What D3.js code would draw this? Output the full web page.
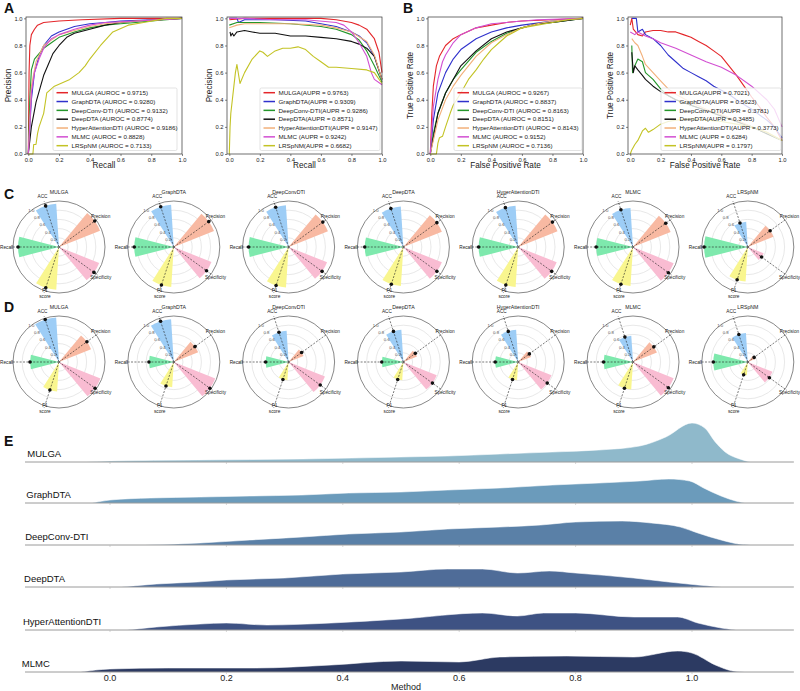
<!DOCTYPE html>
<html><head><meta charset="utf-8">
<script src="https://cdn.jsdelivr.net/npm/d3@7"></script>
<style>body{margin:0;background:#fff}svg{font-family:"Liberation Sans",Arial,sans-serif}</style>
</head><body><svg id="c" width="800" height="691"></svg>
<script>
// ---------------- DATA ----------------
const methods = ["MULGA","GraphDTA","DeepConv-DTI","DeepDTA","HyperAttentionDTI","MLMC","LRSpNM"];
const curveColors = ["#e4262a","#2f31cc","#24962a","#111111","#f2b07a","#d24fd2","#c3c325"];

const legendA1 = ["MULGA (AUROC = 0.9715)","GraphDTA (AUROC = 0.9280)","DeepConv-DTI (AUROC = 0.9132)","DeepDTA (AUROC = 0.8774)","HyperAttentionDTI (AUROC = 0.9186)","MLMC (AUROC = 0.8828)","LRSpNM (AUROC = 0.7133)"];
const legendA2 = ["MULGA(AUPR = 0.9763)","GraphDTA(AUPR = 0.9309)","DeepConv-DTI(AUPR = 0.9286)","DeepDTA(AUPR = 0.8571)","HyperAttentionDTI(AUPR = 0.9147)","MLMC (AUPR = 0.9242)","LRSpNM(AUPR = 0.6682)"];
const legendB1 = ["MULGA (AUROC = 0.9267)","GraphDTA (AUROC = 0.8837)","DeepConv-DTI (AUROC = 0.8163)","DeepDTA (AUROC = 0.8151)","HyperAttentionDTI (AUROC = 0.8143)","MLMC (AUROC = 0.9152)","LRSpNM (AUROC = 0.7136)"];
const legendB2 = ["MULGA(AUPR = 0.7021)","GraphDTA(AUPR = 0.5623)","DeepConv-DTI(AUPR = 0.3781)","DeepDTA(AUPR = 0.3485)","HyperAttentionDTI(AUPR = 0.3773)","MLMC (AUPR = 0.6284)","LRSpNM(AUPR = 0.1797)"];

const axisTicks = [0.0,0.2,0.4,0.6,0.8,1.0];

// Panel A left: curves (x, y)
const curvesA1 = [
 [[0,0],[0.005,0.6],[0.01,0.8],[0.02,0.88],[0.04,0.92],[0.06,0.95],[0.1,0.97],[0.2,0.98],[0.35,0.99],[0.6,1],[1,1]],
 [[0,0],[0.02,0.4],[0.04,0.6],[0.07,0.72],[0.1,0.8],[0.15,0.87],[0.2,0.9],[0.25,0.92],[0.3,0.94],[0.4,0.96],[0.5,0.97],[0.6,0.98],[0.8,0.99],[1,1]],
 [[0,0],[0.01,0.4],[0.02,0.62],[0.04,0.7],[0.07,0.74],[0.1,0.78],[0.15,0.82],[0.2,0.86],[0.3,0.9],[0.4,0.93],[0.5,0.95],[0.6,0.96],[0.7,0.97],[0.8,0.98],[1,1]],
 [[0,0],[0.02,0.2],[0.05,0.38],[0.08,0.5],[0.1,0.58],[0.13,0.66],[0.16,0.74],[0.2,0.8],[0.25,0.86],[0.3,0.89],[0.4,0.92],[0.5,0.95],[0.6,0.97],[0.7,0.98],[0.85,0.99],[1,1]],
 [[0,0],[0.02,0.5],[0.05,0.68],[0.1,0.8],[0.2,0.88],[0.3,0.91],[0.4,0.94],[0.5,0.96],[0.7,0.98],[1,1]],
 [[0,0],[0.02,0.45],[0.04,0.6],[0.07,0.7],[0.1,0.78],[0.15,0.85],[0.2,0.88],[0.3,0.92],[0.4,0.95],[0.5,0.97],[0.7,0.98],[1,1]],
 [[0,0],[0.03,0],[0.035,0.07],[0.05,0.07],[0.06,0.15],[0.07,0.2],[0.1,0.3],[0.12,0.45],[0.17,0.5],[0.27,0.55],[0.33,0.6],[0.37,0.65],[0.4,0.7],[0.47,0.8],[0.55,0.9],[0.65,0.95],[0.75,0.97],[0.9,1],[1,1]]
];
// Panel A right
const curvesA2 = [
 [[0,0.99],[0.1,1],[0.6,1],[0.7,0.99],[0.8,0.97],[0.85,0.95],[0.9,0.92],[0.95,0.85],[0.98,0.75],[1,0.6]],
 [[0,1],[0.05,1],[0.06,0.97],[0.1,0.99],[0.3,0.99],[0.5,0.98],[0.6,0.96],[0.7,0.94],[0.8,0.9],[0.85,0.87],[0.9,0.82],[0.95,0.72],[1,0.55]],
 [[0,0.95],[0.05,0.97],[0.2,0.97],[0.4,0.96],[0.6,0.94],[0.7,0.92],[0.8,0.88],[0.85,0.84],[0.9,0.76],[0.95,0.65],[1,0.53]],
 [[0.005,0.9],[0.01,0.87],[0.02,0.89],[0.03,0.87],[0.05,0.9],[0.1,0.91],[0.15,0.9],[0.2,0.89],[0.3,0.89],[0.4,0.87],[0.5,0.87],[0.6,0.86],[0.7,0.85],[0.8,0.83],[0.85,0.81],[0.9,0.78],[0.95,0.72],[1,0.55]],
 [[0,0.93],[0.05,0.95],[0.1,0.96],[0.2,0.96],[0.4,0.96],[0.6,0.95],[0.7,0.93],[0.8,0.9],[0.9,0.83],[0.95,0.73],[1,0.55]],
 [[0,1],[0.1,1],[0.3,0.99],[0.5,0.99],[0.7,0.97],[0.75,0.95],[0.8,0.9],[0.85,0.82],[0.9,0.72],[0.93,0.6],[0.95,0.55],[1,0.51]],
 [[0,0],[0.005,0.2],[0.01,0.3],[0.02,0.4],[0.04,0.6],[0.05,0.66],[0.07,0.52],[0.1,0.6],[0.15,0.7],[0.2,0.76],[0.22,0.75],[0.25,0.72],[0.3,0.76],[0.35,0.78],[0.4,0.78],[0.45,0.79],[0.5,0.77],[0.55,0.72],[0.6,0.68],[0.65,0.64],[0.7,0.64],[0.8,0.63],[0.9,0.62],[0.95,0.6],[1,0.52]]
];
// Panel B left
const curvesB1 = [
 [[0,0],[0.01,0.3],[0.02,0.5],[0.04,0.65],[0.06,0.72],[0.1,0.8],[0.15,0.85],[0.2,0.88],[0.3,0.93],[0.4,0.95],[0.5,0.97],[0.6,0.98],[0.8,0.99],[1,1]],
 [[0,0],[0.02,0.25],[0.05,0.45],[0.1,0.6],[0.15,0.7],[0.2,0.77],[0.3,0.85],[0.4,0.9],[0.5,0.93],[0.6,0.95],[0.8,0.98],[1,1]],
 [[0,0],[0.02,0.15],[0.05,0.3],[0.1,0.45],[0.15,0.55],[0.2,0.62],[0.3,0.75],[0.4,0.83],[0.5,0.89],[0.6,0.93],[0.7,0.96],[0.8,0.97],[1,1]],
 [[0,0],[0.02,0.12],[0.05,0.3],[0.1,0.45],[0.15,0.55],[0.2,0.65],[0.3,0.76],[0.4,0.85],[0.5,0.9],[0.6,0.93],[0.7,0.96],[0.8,0.97],[1,1]],
 [[0,0],[0.02,0.1],[0.05,0.25],[0.1,0.4],[0.15,0.5],[0.2,0.58],[0.3,0.72],[0.4,0.82],[0.5,0.88],[0.6,0.93],[0.7,0.96],[0.8,0.98],[1,1]],
 [[0,0],[0.02,0.35],[0.05,0.55],[0.08,0.68],[0.1,0.73],[0.15,0.82],[0.2,0.88],[0.3,0.93],[0.4,0.96],[0.5,0.97],[0.7,0.99],[1,1]],
 [[0,0],[0.04,0],[0.05,0.08],[0.06,0.12],[0.08,0.13],[0.1,0.2],[0.13,0.3],[0.15,0.36],[0.2,0.45],[0.25,0.55],[0.3,0.62],[0.35,0.7],[0.4,0.77],[0.45,0.82],[0.5,0.87],[0.55,0.9],[0.6,0.93],[0.7,0.95],[0.8,0.97],[0.9,0.99],[1,1]]
];
// Panel B right
const curvesB2 = [
 [[0,0.95],[0.01,1],[0.02,0.92],[0.05,0.88],[0.08,0.87],[0.1,0.9],[0.15,0.91],[0.2,0.91],[0.25,0.9],[0.3,0.9],[0.35,0.88],[0.4,0.86],[0.45,0.83],[0.5,0.8],[0.55,0.76],[0.6,0.72],[0.65,0.65],[0.7,0.58],[0.75,0.5],[0.8,0.42],[0.85,0.35],[0.9,0.27],[0.95,0.2],[1,0.1]],
 [[0.01,1],[0.04,1],[0.05,0.9],[0.08,0.92],[0.1,0.88],[0.15,0.85],[0.2,0.8],[0.25,0.73],[0.3,0.68],[0.35,0.63],[0.4,0.6],[0.45,0.57],[0.5,0.54],[0.55,0.5],[0.6,0.47],[0.65,0.44],[0.7,0.4],[0.8,0.33],[0.9,0.25],[0.95,0.2],[1,0.12]],
 [[0.01,0.8],[0.015,0.6],[0.03,0.65],[0.05,0.7],[0.08,0.68],[0.1,0.6],[0.15,0.55],[0.2,0.48],[0.25,0.43],[0.3,0.4],[0.4,0.36],[0.5,0.32],[0.6,0.28],[0.7,0.24],[0.8,0.2],[0.9,0.15],[1,0.1]],
 [[0.01,0.75],[0.02,0.6],[0.03,0.65],[0.05,0.62],[0.08,0.58],[0.1,0.55],[0.15,0.5],[0.2,0.46],[0.3,0.4],[0.4,0.36],[0.5,0.32],[0.6,0.28],[0.7,0.24],[0.8,0.2],[0.9,0.15],[1,0.1]],
 [[0.01,0.85],[0.03,0.82],[0.05,0.8],[0.08,0.72],[0.1,0.66],[0.15,0.6],[0.2,0.54],[0.25,0.48],[0.3,0.44],[0.4,0.38],[0.5,0.33],[0.6,0.29],[0.7,0.25],[0.8,0.2],[0.9,0.16],[1,0.1]],
 [[0,0.9],[0.03,0.88],[0.05,0.9],[0.1,0.87],[0.15,0.85],[0.2,0.82],[0.3,0.78],[0.4,0.73],[0.5,0.68],[0.6,0.64],[0.7,0.58],[0.8,0.5],[0.9,0.4],[0.95,0.33],[1,0.2]],
 [[0,0],[0.01,0.03],[0.03,0.07],[0.05,0.1],[0.08,0.17],[0.1,0.19],[0.12,0.16],[0.15,0.18],[0.2,0.22],[0.25,0.24],[0.3,0.25],[0.4,0.26],[0.5,0.25],[0.6,0.24],[0.7,0.22],[0.8,0.2],[0.9,0.16],[1,0.1]]
];

// Radar charts
const radarTitles = ["MULGA","GraphDTA","DeepConvDTI","DeepDTA","HyperAttentionDTI","MLMC","LRSpNM"];
const radarMetrics = ["ACC","Precision","Specificity","F1\nscore","Recall"];
const radarColors = ["#9dcdf6","#f8b9a2","#f9bcd2","#f9f68f","#7ee9ad"];
const radarTicks = [0.2,0.4,0.6,0.8,1.0];
// values: ACC, Precision, Specificity, F1 score, Recall
const radarC = [
 [0.94,0.96,0.94,0.93,0.89],
 [0.92,0.94,0.88,0.87,0.86],
 [0.91,0.92,0.9,0.88,0.87],
 [0.88,0.9,0.9,0.85,0.84],
 [0.9,0.92,0.9,0.87,0.86],
 [0.85,0.88,0.95,0.85,0.8],
 [0.55,0.6,0.37,0.75,0.95]
];
const radarD = [
 [0.97,0.75,0.97,0.64,0.63],
 [0.93,0.57,0.97,0.55,0.54],
 [0.68,0.35,0.85,0.4,0.5],
 [0.7,0.32,0.78,0.4,0.47],
 [0.7,0.3,0.78,0.4,0.5],
 [0.57,0.56,0.95,0.6,0.64],
 [0.63,0.17,0.58,0.29,0.75]
];

// Ridge plot (kernel density by method)
const ridgeNames = ["MULGA","GraphDTA","DeepConv-DTI","DeepDTA","HyperAttentionDTI","MLMC"];
const ridgeColors = ["#8fb9cb","#6b9bbb","#5a80a7","#4f6c98","#3e5283","#2c3a62"];
const ridgeTicks = [0.0,0.2,0.4,0.6,0.8,1.0];
const ridgeMULGA = [[-0.04,0],[0.0,0.1],[0.15,0.2],[0.33,0.3],[0.5,0.5],[0.58,0.6],[0.67,0.8],[0.76,1.0],[0.84,1.2],[0.91,1.6],[0.955,2.5],[1.0,3.9],[1.022,3.4],[1.04,2.0],[1.057,1.0],[1.082,0.3],[1.1,0]];
const ridgeGraphDTA = [[-0.03,0],[0.0,0.3],[0.07,0.5],[0.155,0.6],[0.24,0.7],[0.33,0.8],[0.41,1.0],[0.5,1.1],[0.58,1.3],[0.67,1.5],[0.76,1.8],[0.84,2.0],[0.91,2.2],[0.96,2.4],[0.996,2.2],[1.02,1.5],[1.05,0.7],[1.075,0.2],[1.09,0]];
const ridgeDeepConv = [[0.06,0],[0.155,0.2],[0.24,0.5],[0.33,0.8],[0.41,1.1],[0.5,1.3],[0.58,1.6],[0.67,1.8],[0.74,2.0],[0.8,2.3],[0.88,2.4],[0.93,2.2],[0.98,1.8],[1.01,1.2],[1.05,0.5],[1.08,0.1],[1.1,0]];
const ridgeDeepDTA = [[0.02,0],[0.08,0.3],[0.15,0.5],[0.2,0.7],[0.3,0.9],[0.4,1.3],[0.5,1.5],[0.58,1.8],[0.64,1.8],[0.7,1.4],[0.755,1.6],[0.8,1.4],[0.9,0.9],[0.96,0.5],[1.01,0.2],[1.05,0]];
const ridgeHyper = [[0.03,0],[0.08,0.3],[0.155,0.6],[0.2,0.7],[0.27,0.5],[0.38,0.7],[0.5,1.1],[0.64,1.7],[0.7,1.4],[0.745,1.7],[0.8,1.7],[0.9,1.3],[0.975,1.3],[1.01,0.7],[1.05,0.2],[1.075,0]];
const ridgeMLMC = [[-0.05,0],[0.0,0.3],[0.1,0.4],[0.25,0.4],[0.38,0.7],[0.5,1.1],[0.6,1.0],[0.67,1.5],[0.785,1.6],[0.9,1.5],[0.975,2.1],[1.0,1.9],[1.04,0.7],[1.07,0.1],[1.09,0]];
const ridgeData = [ridgeMULGA, ridgeGraphDTA, ridgeDeepConv, ridgeDeepDTA, ridgeHyper, ridgeMLMC];

// ---------------- DRAW ----------------
const svg = d3.select("#c");
const FONT = "'Liberation Sans',Arial,sans-serif";

function panelLabel(t,x,y){
  svg.append("text").attr("x",x).attr("y",y).text(t)
    .attr("font-size",14).attr("font-weight","bold").attr("fill","#111");
}

function curvePanel(left, right, curves, legend, xlabel, ylabel, legBox){
  const top=17, bottom=154;
  const x = d3.scaleLinear().domain([-0.015,1.0]).range([left,right]);
  const y = d3.scaleLinear().domain([0,1.01]).range([bottom,top]);
  const g = svg.append("g");
  const line = d3.line().x(d=>x(d[0])).y(d=>y(d[1]));
  curves.forEach((c,i)=>{
    g.append("path").attr("d",line(c)).attr("fill","none")
      .attr("stroke",curveColors[i]).attr("stroke-width",1.1).attr("stroke-linejoin","round");
  });
  g.append("rect").attr("x",left).attr("y",top).attr("width",right-left).attr("height",bottom-top)
    .attr("fill","none").attr("stroke","#333").attr("stroke-width",0.7);
  const xa = g.append("g").attr("transform",`translate(0,${bottom})`)
    .call(d3.axisBottom(x).tickValues(axisTicks).tickFormat(d3.format(".1f")).tickSize(2).tickPadding(1.5));
  const ya = g.append("g").attr("transform",`translate(${left},0)`)
    .call(d3.axisLeft(y).tickValues(axisTicks).tickFormat(d3.format(".1f")).tickSize(2).tickPadding(1.5));
  [xa,ya].forEach(a=>{
    a.select(".domain").remove();
    a.selectAll("line").attr("stroke","#333").attr("stroke-width",0.6);
    a.selectAll("text").attr("font-size",5.8).attr("fill","#222").attr("font-family",FONT);
  });
  g.append("text").attr("x",(left+right)/2).attr("y",168).attr("text-anchor","middle")
    .attr("font-size",8.2).attr("fill","#222").text(xlabel);
  g.append("text").attr("transform",`translate(${left-15},${(top+bottom)/2}) rotate(-90)`)
    .attr("text-anchor","middle").attr("font-size",8.2).attr("fill","#222").text(ylabel);
  // legend
  const lg = g.append("g");
  lg.append("rect").attr("x",legBox[0]).attr("y",88).attr("width",legBox[1]-legBox[0]).attr("height",62.5)
    .attr("rx",1.5).attr("fill","#fff").attr("fill-opacity",0.8).attr("stroke","#d0d0d0").attr("stroke-width",0.6);
  legend.forEach((t,i)=>{
    const yy = 92.7 + i*8.83;
    lg.append("line").attr("x1",legBox[0]+3.5).attr("x2",legBox[0]+15).attr("y1",yy).attr("y2",yy)
      .attr("stroke",curveColors[i]).attr("stroke-width",1.5);
    lg.append("text").attr("x",legBox[0]+18.5).attr("y",yy+2.2).attr("font-size",6.25).attr("fill","#222").text(t);
  });
}

curvePanel(26,182,curvesA1,legendA1,"Recall","Precision",[53,177]);
curvePanel(227,382,curvesA2,legendA2,"Recall","Precision",[260,380]);
curvePanel(428,583,curvesB1,legendB1,"False Positive Rate","True Positive Rate",[454,582]);
curvePanel(628,782,curvesB2,legendB2,"False Positive Rate","True Positive Rate",[661,781]);

panelLabel("A",4,13); panelLabel("B",403,13);
panelLabel("C",4,199); panelLabel("D",4,312); panelLabel("E",4,446);

// radar
const radarAngles = [108,36,-36,-108,180].map(a=>a*Math.PI/180);
function radar(cx, cy, title, vals){
  const R = 46;
  const r = d3.scaleLinear().domain([0,1]).range([0,R]);
  const g = svg.append("g").attr("transform",`translate(${cx},${cy})`);
  radarTicks.slice(0,-1).forEach(t=>{
    g.append("circle").attr("r",r(t)).attr("fill","none").attr("stroke","#d8d8d8").attr("stroke-width",0.6);
  });
  g.append("circle").attr("r",r(1)).attr("fill","none").attr("stroke","#555").attr("stroke-width",0.7);
  const arc = d3.arc().innerRadius(0);
  const w = 0.5;
  vals.forEach((v,i)=>{
    const a = Math.PI/2 - radarAngles[i];
    g.append("path").attr("d",arc({outerRadius:r(v),startAngle:a-w/2,endAngle:a+w/2}))
      .attr("fill",radarColors[i]);
  });
  radarTicks.forEach(t=>{
    const a = 127*Math.PI/180;
    g.append("text").attr("x",r(t)*Math.cos(a)).attr("y",-r(t)*Math.sin(a)+1.5)
      .attr("text-anchor","middle").attr("font-size",4.3).attr("fill","#555").text(t.toFixed(1));
  });
  vals.forEach((v,i)=>{
    const a = radarAngles[i];
    const ext = r(1.05);
    g.append("line").attr("x1",0).attr("y1",0).attr("x2",ext*Math.cos(a)).attr("y2",-ext*Math.sin(a))
      .attr("stroke","#222").attr("stroke-width",0.6).attr("stroke-dasharray","2,1.4");
    g.append("circle").attr("cx",r(v)*Math.cos(a)).attr("cy",-r(v)*Math.sin(a)).attr("r",1.8).attr("fill","#111");
  });
  const labR = [1.16,1.12,1.12,0.99,1.14];
  radarMetrics.forEach((m,i)=>{
    const a = radarAngles[i];
    const lx = r(labR[i])*Math.cos(a), ly = -r(labR[i])*Math.sin(a);
    const lines = m.split("\n");
    const t = g.append("text").attr("text-anchor","middle").attr("font-size",4.7).attr("fill","#222");
    lines.forEach((s,k)=>{
      t.append("tspan").attr("x",lx).attr("y",ly+1.7+k*5.8).text(s);
    });
  });
  g.append("text").attr("y",-53).attr("text-anchor","middle").attr("font-size",5.2).attr("fill","#222").text(title);
}
radarTitles.forEach((t,i)=>{
  radar(59+i*114.8, 247, t, radarC[i]);
  radar(59+i*114.8, 362, t, radarD[i]);
});

// ridge
const rx = d3.scaleLinear().domain([0,1]).range([110,692]);
const ridgeBase = [462,503,545,587,630,672];
const hScale = d3.scaleLinear().domain([0,1]).range([0,10]);
ridgeNames.forEach((n,i)=>{
  const b = ridgeBase[i];
  const g = svg.append("g");
  const area = d3.area().x(d=>rx(d[0])).y0(b).y1(d=>b-hScale(d[1])).curve(d3.curveMonotoneX);
  g.append("path").attr("d",area(ridgeData[i])).attr("fill",ridgeColors[i]);
  const ln = d3.line().x(d=>rx(d[0])).y(d=>b-hScale(d[1])).curve(d3.curveMonotoneX);
  g.append("path").attr("d",ln(ridgeData[i])).attr("fill","none").attr("stroke","#fff").attr("stroke-width",0.8).attr("stroke-opacity",0.7);
  g.append("line").attr("x1",rx(-0.146)).attr("x2",rx(1.175)).attr("y1",b).attr("y2",b)
    .attr("stroke","#9a9a9a").attr("stroke-width",1);
  ridgeTicks.forEach(t=>{
    g.append("line").attr("x1",rx(t)).attr("x2",rx(t)).attr("y1",b).attr("y2",b+2).attr("stroke","#bbb").attr("stroke-width",0.6);
  });
  g.append("text").attr("x",rx(-0.142)-i*1.1).attr("y",b-5.5).attr("font-size",9.5).attr("fill","#111").text(n);
});
ridgeTicks.forEach(t=>{
  svg.append("text").attr("x",rx(t)).attr("y",680.5).attr("text-anchor","middle").attr("font-size",9).attr("fill","#222").text(t.toFixed(1));
});
svg.append("text").attr("x",406).attr("y",690).attr("text-anchor","middle").attr("font-size",9).attr("fill","#222").text("Method");
</script></body></html>
